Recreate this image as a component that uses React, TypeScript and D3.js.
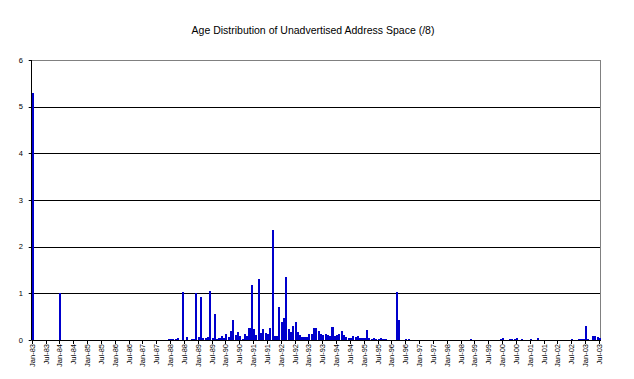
import React from "react";
import * as d3 from "d3";

const title = "Age Distribution of Unadvertised Address Space (/8)";

const monthNames = ["Jan", "Feb", "Mar", "Apr", "May", "Jun", "Jul", "Aug", "Sep", "Oct", "Nov", "Dec"];
const years = d3.range(1983, 2004);

// Monthly values, Jan-83 .. Jul-03 (one row per year)
const values: number[] = [
  // 1983
  5.3, 0, 0, 0, 0, 0, 0, 0, 0, 0, 0, 0,
  // 1984
  1.0, 0, 0, 0, 0, 0, 0, 0, 0, 0, 0, 0,
  // 1985
  0.01, 0, 0, 0, 0, 0, 0, 0, 0, 0, 0, 0,
  // 1986
  0, 0, 0, 0, 0, 0, 0, 0, 0, 0, 0, 0,
  // 1987
  0, 0, 0.01, 0, 0, 0, 0, 0, 0, 0, 0, 0.02,
  // 1988
  0.02, 0.02, 0.02, 0.04, 0.01, 1.03, 0.01, 0.06, 0, 0.03, 0.03, 1.0,
  // 1989
  0.06, 0.92, 0.04, 0.04, 0.06, 1.05, 0.04, 0.56, 0.02, 0.04, 0.09, 0.04,
  // 1990
  0.13, 0.06, 0.19, 0.43, 0.1, 0.17, 0.09, 0.02, 0.13, 0.09, 0.26, 1.18,
  // 1991
  0.24, 0.11, 1.31, 0.15, 0.24, 0.15, 0.13, 0.26, 2.36, 0.09, 0.09, 0.71,
  // 1992
  0.39, 0.47, 1.35, 0.24, 0.17, 0.3, 0.39, 0.17, 0.11, 0.07, 0.06, 0.06,
  // 1993
  0.13, 0.13, 0.26, 0.26, 0.19, 0.13, 0.11, 0.13, 0.11, 0.09, 0.28, 0.09,
  // 1994
  0.11, 0.13, 0.19, 0.11, 0.06, 0.04, 0.04, 0.09, 0.06, 0.09, 0.04, 0.04,
  // 1995
  0.04, 0.21, 0.04, 0.02, 0.04, 0.02, 0.02, 0.04, 0.02, 0.02, 0, 0,
  // 1996
  0, 0, 1.03, 0.43, 0, 0, 0.02, 0.02, 0, 0, 0, 0,
  // 1997
  0, 0, 0, 0, 0, 0, 0, 0, 0, 0, 0, 0,
  // 1998
  0, 0, 0, 0, 0, 0, 0, 0, 0, 0, 0.02, 0,
  // 1999
  0, 0, 0, 0, 0, 0, 0, 0, 0, 0, 0, 0.02,
  // 2000
  0.04, 0, 0, 0.02, 0.02, 0.02, 0.04, 0, 0.02, 0, 0, 0,
  // 2001
  0.02, 0, 0, 0.04, 0, 0, 0, 0, 0, 0, 0, 0,
  // 2002
  0, 0, 0, 0, 0, 0, 0.02, 0, 0, 0.02, 0.02, 0.02,
  // 2003
  0.3, 0.02, 0, 0.09, 0.09, 0.06, 0.04,
];

const categories: string[] = values.map(
  (_, i) => `${monthNames[i % 12]}-${String(years[Math.floor(i / 12)]).slice(2)}`
);

const tickLabels: string[] = [
  "Jan-83", "Jul-83", "Jan-84", "Jul-84", "Jan-85", "Jul-85", "Jan-86", "Jul-86",
  "Jan-87", "Jul-87", "Jan-88", "Jul-88", "Jan-89", "Jul-89", "Jan-90", "Jul-90",
  "Jan-91", "Jul-91", "Jan-92", "Jul-92", "Jan-93", "Jul-93", "Jan-94", "Jul-94",
  "Jan-95", "Jul-95", "Jan-96", "Jul-96", "Jan-97", "Jul-97", "Jan-98", "Jul-98",
  "Jan-99", "Jul-99", "Jan-00", "Jul-00", "Jan-01", "Jul-01", "Jan-02", "Jul-02",
  "Jan-03", "Jul-03",
];

const yTicks = [0, 1, 2, 3, 4, 5, 6];

export default function App() {
  const W = 634, H = 379;
  const left = 31.7, right = 601, top = 60, bottom = 340;
  const x = d3.scaleBand<string>().domain(categories).range([left, right]).paddingInner(0.1).paddingOuter(0);
  const y = d3.scaleLinear().domain([0, 6]).range([bottom, top]);
  const font = "'Liberation Sans', Arial, sans-serif";

  return (
    <svg width={W} height={H} style={{ position: "absolute", left: 0, top: 0, background: "#fff" }} fontFamily={font}>
      <rect width={W} height={H} fill="#fff" />
      <text x={313} y={34} textAnchor="middle" fontSize={10.5} fill="#000">{title}</text>
      {/* gridlines */}
      {yTicks.filter(t => t > 0 && t < 6).map(t => (
        <line key={t} x1={left} x2={right} y1={Math.round(y(t)) + 0.5} y2={Math.round(y(t)) + 0.5} stroke="#000" strokeWidth={1} />
      ))}
      {/* plot border top/right */}
      <line x1={left} x2={right} y1={top + 0.5} y2={top + 0.5} stroke="#808080" />
      <line x1={right - 0.5} x2={right - 0.5} y1={top} y2={bottom} stroke="#808080" />
      {/* bars */}
      <g shapeRendering="crispEdges">
        {values.map((v, i) => v > 0 ? (
          <rect key={i} x={x(categories[i])!} width={x.bandwidth()} y={y(v)} height={Math.max(1, bottom - y(v))} fill="#0000cc" />
        ) : null)}
      </g>
      {/* axes */}
      <line x1={left} x2={left} y1={top} y2={bottom} stroke="#000" shapeRendering="crispEdges" />
      <line x1={left} x2={right} y1={bottom + 0.5} y2={bottom + 0.5} stroke="#000" />
      {yTicks.map(t => (
        <g key={t}>
          <line x1={left - 3} x2={left} y1={Math.round(y(t)) + 0.5} y2={Math.round(y(t)) + 0.5} stroke="#000" />
          <text x={23} y={y(t)} dy="0.35em" textAnchor="end" fontSize={7.5} fill="#000">{t}</text>
        </g>
      ))}
      {tickLabels.map((lab, k) => {
        const i = k * 6;
        const tx = Math.round(x(categories[i])!) + 0.5;
        return (
          <g key={lab}>
            <line x1={tx} x2={tx} y1={bottom} y2={bottom + 4} stroke="#000" />
            <text transform={`translate(${tx},${bottom + 4}) rotate(-90)`} textAnchor="end" dy="0.35em" fontSize={7.5} fill="#000">{lab}</text>
          </g>
        );
      })}
    </svg>
  );
}
